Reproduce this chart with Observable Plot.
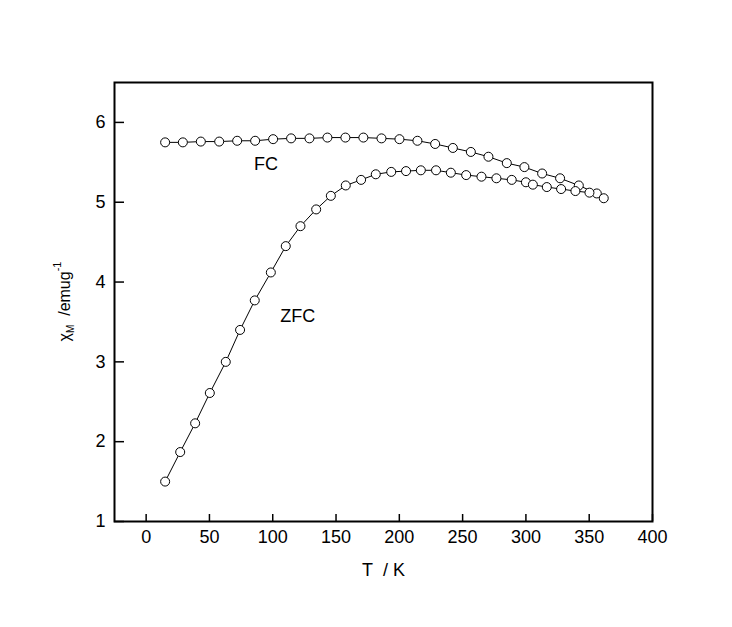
<!DOCTYPE html>
<html><head><meta charset="utf-8">
<script src="https://cdn.jsdelivr.net/npm/d3@7"></script>
<script src="https://cdn.jsdelivr.net/npm/@observablehq/plot@0.6"></script>
<style>body{margin:0;background:#fff} svg{display:block}</style>
</head><body><div id="chart"></div>
<script>
// FC (field-cooled) curve
const fcT   = [15.0, 29.0, 43.2, 57.7, 71.9, 86.1, 100.3, 114.5, 129.0, 143.2, 157.4, 171.6, 185.9, 200.1, 214.3, 228.3, 242.3, 256.5, 270.4, 284.9, 298.8, 312.8, 327.0, 341.8, 356.0];
const fcChi = [5.75, 5.75, 5.76, 5.76, 5.77, 5.77, 5.79, 5.80, 5.80, 5.81, 5.81, 5.81, 5.80, 5.79, 5.77, 5.73, 5.68, 5.63, 5.57, 5.49, 5.44, 5.36, 5.30, 5.21, 5.11];
// ZFC (zero-field-cooled) curve
const zfcT   = [15.0, 26.9, 38.7, 50.3, 62.9, 74.2, 85.8, 98.5, 110.3, 121.9, 134.3, 145.9, 157.7, 169.8, 181.4, 193.6, 205.3, 217.0, 229.0, 240.7, 252.8, 264.9, 276.7, 288.8, 300.0, 305.5, 316.5, 327.8, 339.1, 350.2, 361.5];
const zfcChi = [1.50, 1.87, 2.23, 2.61, 3.00, 3.40, 3.77, 4.12, 4.45, 4.70, 4.91, 5.08, 5.21, 5.28, 5.35, 5.38, 5.39, 5.40, 5.40, 5.37, 5.34, 5.32, 5.30, 5.28, 5.25, 5.22, 5.19, 5.165, 5.14, 5.12, 5.05];
// tick values
const xTicks = [0, 50, 100, 150, 200, 250, 300, 350, 400];
const yTicks = [1, 2, 3, 4, 5, 6];
// curve annotations
const curveNames = ["FC", "ZFC"];
const curveNameT = [94.6, 119.8];
const curveNameChi = [5.475, 3.57];
const xLabel = "T\u00a0 / K";

const fc = fcT.map((t, i) => ({T: t, chi: fcChi[i]}));
const zfc = zfcT.map((t, i) => ({T: t, chi: zfcChi[i]}));
const notes = curveNames.map((n, i) => ({name: n, T: curveNameT[i], chi: curveNameChi[i]}));

const font = "'Liberation Sans', Arial, Helvetica, sans-serif";
const plot = Plot.plot({
  width: 732,
  height: 627,
  marginLeft: 114,
  marginRight: 80,
  marginTop: 82,
  marginBottom: 106,
  style: {fontFamily: font, fontSize: "18px", background: "white", color: "black"},
  x: {domain: [-25, 400], label: null},
  y: {domain: [1, 6.5], label: null},
  marks: [
    Plot.frame({strokeWidth: 2}),
    Plot.axisX(xTicks, {anchor: "bottom", tickSize: 7, dy: -7, fill: "none", strokeWidth: 1.5, label: null}),
    Plot.axisX(xTicks, {anchor: "bottom", tickSize: 0, tickPadding: 9, tickFormat: d3.format("d"), label: null, fontSize: 18}),
    Plot.axisY(yTicks, {anchor: "left", tickSize: 10, dx: 10, fill: "none", strokeWidth: 1.5, label: null}),
    Plot.axisY(yTicks, {anchor: "left", tickSize: 0, tickPadding: 9, tickFormat: d3.format("d"), label: null, fontSize: 18}),
    Plot.line(fc, {x: "T", y: "chi", stroke: "black", strokeWidth: 1}),
    Plot.line(zfc, {x: "T", y: "chi", stroke: "black", strokeWidth: 1}),
    Plot.dot(fc, {x: "T", y: "chi", r: 4.5, fill: "white", stroke: "black", strokeWidth: 1}),
    Plot.dot(zfc, {x: "T", y: "chi", r: 4.5, fill: "white", stroke: "black", strokeWidth: 1}),
    Plot.text(notes, {x: "T", y: "chi", text: "name", fontSize: 18, fill: "black"}),
    Plot.text([xLabel], {frameAnchor: "bottom", text: d => d, dy: 54, fontSize: 18, fill: "black"})
  ]
});

// y-axis title with subscript / superscript
const ys = plot.scale("y");
const cy = (ys.range[0] + ys.range[1]) / 2;
const svg = d3.select(plot);
const t = svg.append("text")
  .attr("transform", `translate(${114 - 44},${cy}) rotate(-90)`)
  .attr("text-anchor", "middle")
  .attr("font-family", font)
  .attr("font-size", 16)
  .attr("fill", "black");
t.append("tspan").text("χ");
t.append("tspan").attr("font-size", 10).attr("dy", 4).text("M");
t.append("tspan").attr("dy", -4).text("\u00a0\u00a0/emug");
t.append("tspan").attr("font-size", 11).attr("dy", -9).text("-1");

document.getElementById("chart").appendChild(plot);
</script>
</body></html>
